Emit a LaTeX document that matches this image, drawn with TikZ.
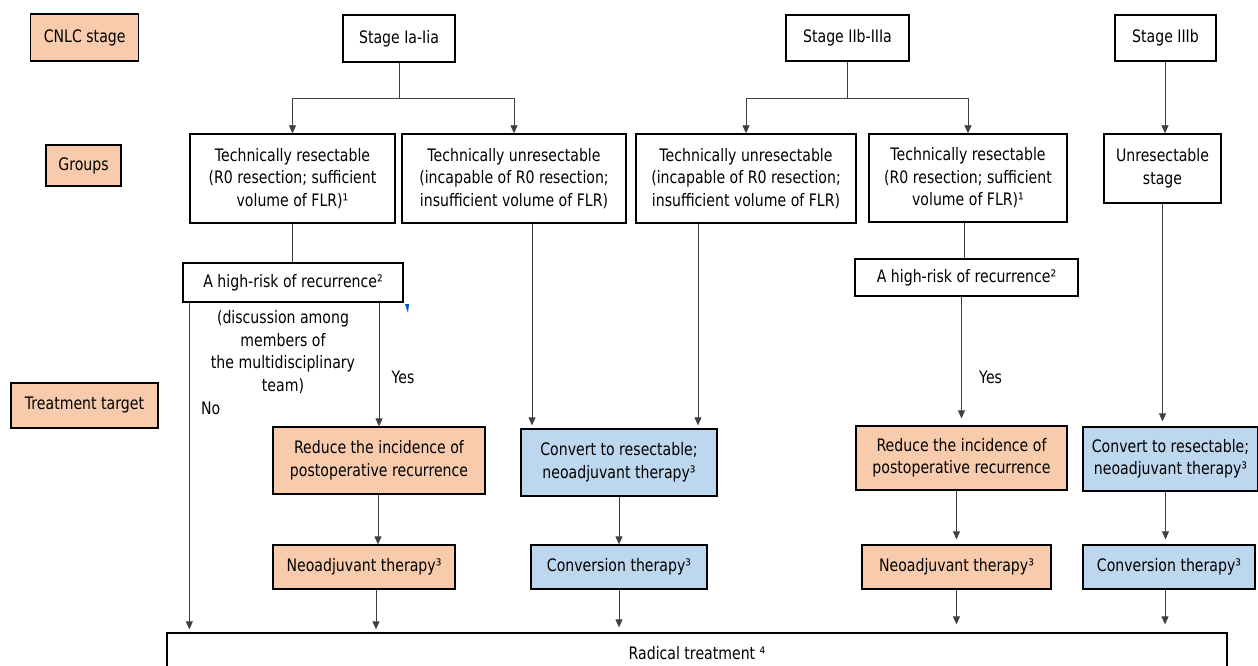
\documentclass[tikz,border=0pt]{standalone}
\usepackage{fontspec}
\setmainfont{DejaVu Sans}[FakeStretch=0.82]
\usetikzlibrary{arrows.meta,positioning,calc}
\definecolor{peach}{HTML}{F8CBAD}
\definecolor{paleblue}{HTML}{BDD7EE}

\begin{document}
\begin{tikzpicture}[
    x=1pt, y=-1pt,
    font=\fontsize{17.2}{22.5}\selectfont,
    block/.style={rectangle, draw, line width=1.3pt, inner sep=0pt, align=center},
    header/.style={block, fill=peach},
    resect/.style={block, fill=peach},
    convert/.style={block, fill=paleblue},
    arrow/.style={line width=0.8pt, draw=black!75, -{Triangle[length=8pt,width=7pt]}},
    line/.style={line width=0.8pt, draw=black!75}
  ]
    \useasboundingbox (0,0) rectangle (1258,666);

    % Row headings
    \node[header, minimum width=108pt, minimum height=47pt] (cnlc) at (84.7,37.5) {CNLC stage};
    \node[header, minimum width=75pt, minimum height=41pt] (groups) at (83.5,165.5) {Groups};
    \node[header, minimum width=147pt, minimum height=45pt] (treat) at (84.5,405.5) {Treatment target};

    % Stages
    \node[block, minimum width=112pt, minimum height=47pt] (stageA) at (399,38.5) {Stage Ia-Iia};
    \node[block, minimum width=123pt, minimum height=46pt] (stageB) at (847.5,38) {Stage IIb-IIIa};
    \node[block, minimum width=101pt, minimum height=46pt] (stageC) at (1165.5,38) {Stage IIIb};

    % Groups
    \node[block, minimum width=205pt, minimum height=89pt] (resA) at (292.5,178.5)
        {Technically resectable\\(R0 resection; sufficient\\volume of FLR)¹};
    \node[block, minimum width=224pt, minimum height=89pt] (unresA) at (514,178.5)
        {Technically unresectable\\(incapable of R0 resection;\\insufficient volume of FLR)};
    \node[block, minimum width=220pt, minimum height=89pt] (unresB) at (746,178.5)
        {Technically unresectable\\(incapable of R0 resection;\\insufficient volume of FLR)};
    \node[block, minimum width=198pt, minimum height=88pt] (resB) at (968,178)
        {Technically resectable\\(R0 resection; sufficient\\volume of FLR)¹};
    \node[block, minimum width=117pt, minimum height=69pt] (unresC) at (1162.5,168.5)
        {Unresectable\\stage};

    % Risk of recurrence
    \node[block, minimum width=220pt, minimum height=39pt] (riskA) at (293,282.5)
        {A high-risk of recurrence²};
    \node[block, minimum width=223pt, minimum height=37pt] (riskB) at (966.5,277.5)
        {A high-risk of recurrence²};
    \node[align=center] (mdt) at (283,352)
        {(discussion among\\members of\\the multidisciplinary\\team)};
    \fill[blue!60!cyan!80!black] (405,304) -- (409,304) -- (408,313) -- cycle;

    % Treatment targets
    \node[resect, minimum width=212pt, minimum height=67pt] (reduceA) at (379,460.5)
        {Reduce the incidence of\\postoperative recurrence};
    \node[convert, minimum width=196pt, minimum height=67pt] (convA) at (619,462.5)
        {Convert to resectable;\\neoadjuvant therapy³};
    \node[resect, minimum width=211pt, minimum height=64pt] (reduceB) at (961.5,458)
        {Reduce the incidence of\\postoperative recurrence};
    \node[convert, minimum width=175pt, minimum height=64pt] (convB) at (1170.5,459)
        {Convert to resectable;\\neoadjuvant therapy³};

    % Therapies
    \node[resect, minimum width=182pt, minimum height=44pt] (neoA) at (364,567)
        {Neoadjuvant therapy³};
    \node[convert, minimum width=176pt, minimum height=44pt] (therA) at (619,567)
        {Conversion therapy³};
    \node[resect, minimum width=189pt, minimum height=44pt] (neoB) at (956.5,567)
        {Neoadjuvant therapy³};
    \node[convert, minimum width=172pt, minimum height=44pt] (therB) at (1169,567)
        {Conversion therapy³};

    % Radical treatment
    \node[block, minimum width=1060pt, minimum height=40pt] (radical) at (697,653)
        {Radical treatment ⁴};

    % Connections
    \draw[line] (stageA.south) -- ++(0,36) coordinate (splitA);
    \draw[arrow] (splitA) -| (resA.north);
    \draw[arrow] (splitA) -| (unresA.north);
    \draw[line] (stageB.south) -- ++(0,37) coordinate (splitB);
    \draw[arrow] (splitB) -| (unresB.north);
    \draw[arrow] (splitB) -| (resB.north);
    \draw[arrow] ([xshift=-0.5pt]stageC.south) -- ([xshift=-0.5pt]stageC.south |- unresC.north);

    \draw[line] (resA.south) -- (resA.south |- riskA.north);
    \draw[line] ([xshift=-4pt]resB.south) -- ([xshift=-4pt]resB.south |- riskB.north);

    \draw[arrow, shorten >=3pt] ([xshift=7pt]riskA.south west) -- ([xshift=7pt]riskA.south west |- radical.north)
        node[pos=0.32, right=8pt] {No};
    \draw[arrow] (reduceA.north |- riskA.south) -- (reduceA.north)
        node[pos=0.6, right=9pt] {Yes};
    \draw[arrow, shorten >=7pt] (reduceB.north |- riskB.south) -- (reduceB.north)
        node[pos=0.63, right=14pt] {Yes};

    \draw[arrow, shorten >=3pt] ([xshift=18pt]unresA.south) -- ([xshift=18pt]unresA.south |- convA.north);
    \draw[arrow, shorten >=3pt] ([xshift=-48pt]unresB.south) -- ([xshift=-48pt]unresB.south |- convA.north);
    \draw[arrow, shorten >=5pt] (unresC.south) -- (unresC.south |- convB.north);

    \draw[arrow] ([xshift=-1pt]reduceA.south) -- ([xshift=-1pt]reduceA.south |- neoA.north);
    \draw[arrow] (convA.south) -- (therA.north);
    \draw[arrow, shorten >=5pt] (neoB.north |- reduceB.south) -- (neoB.north);
    \draw[arrow, shorten >=5pt] ([xshift=-5pt]convB.south) -- ([xshift=-5pt]convB.south |- therB.north);

    \draw[arrow, shorten >=3pt] ([xshift=12pt]neoA.south) -- ([xshift=12pt]neoA.south |- radical.north);
    \draw[arrow, shorten >=5pt] (therA.south) -- (therA.south |- radical.north);
    \draw[arrow, shorten >=8pt] (neoB.south) -- (neoB.south |- radical.north);
    \draw[arrow, shorten >=8pt] ([xshift=-4pt]therB.south) -- ([xshift=-4pt]therB.south |- radical.north);
  \end{tikzpicture}
\end{document}
